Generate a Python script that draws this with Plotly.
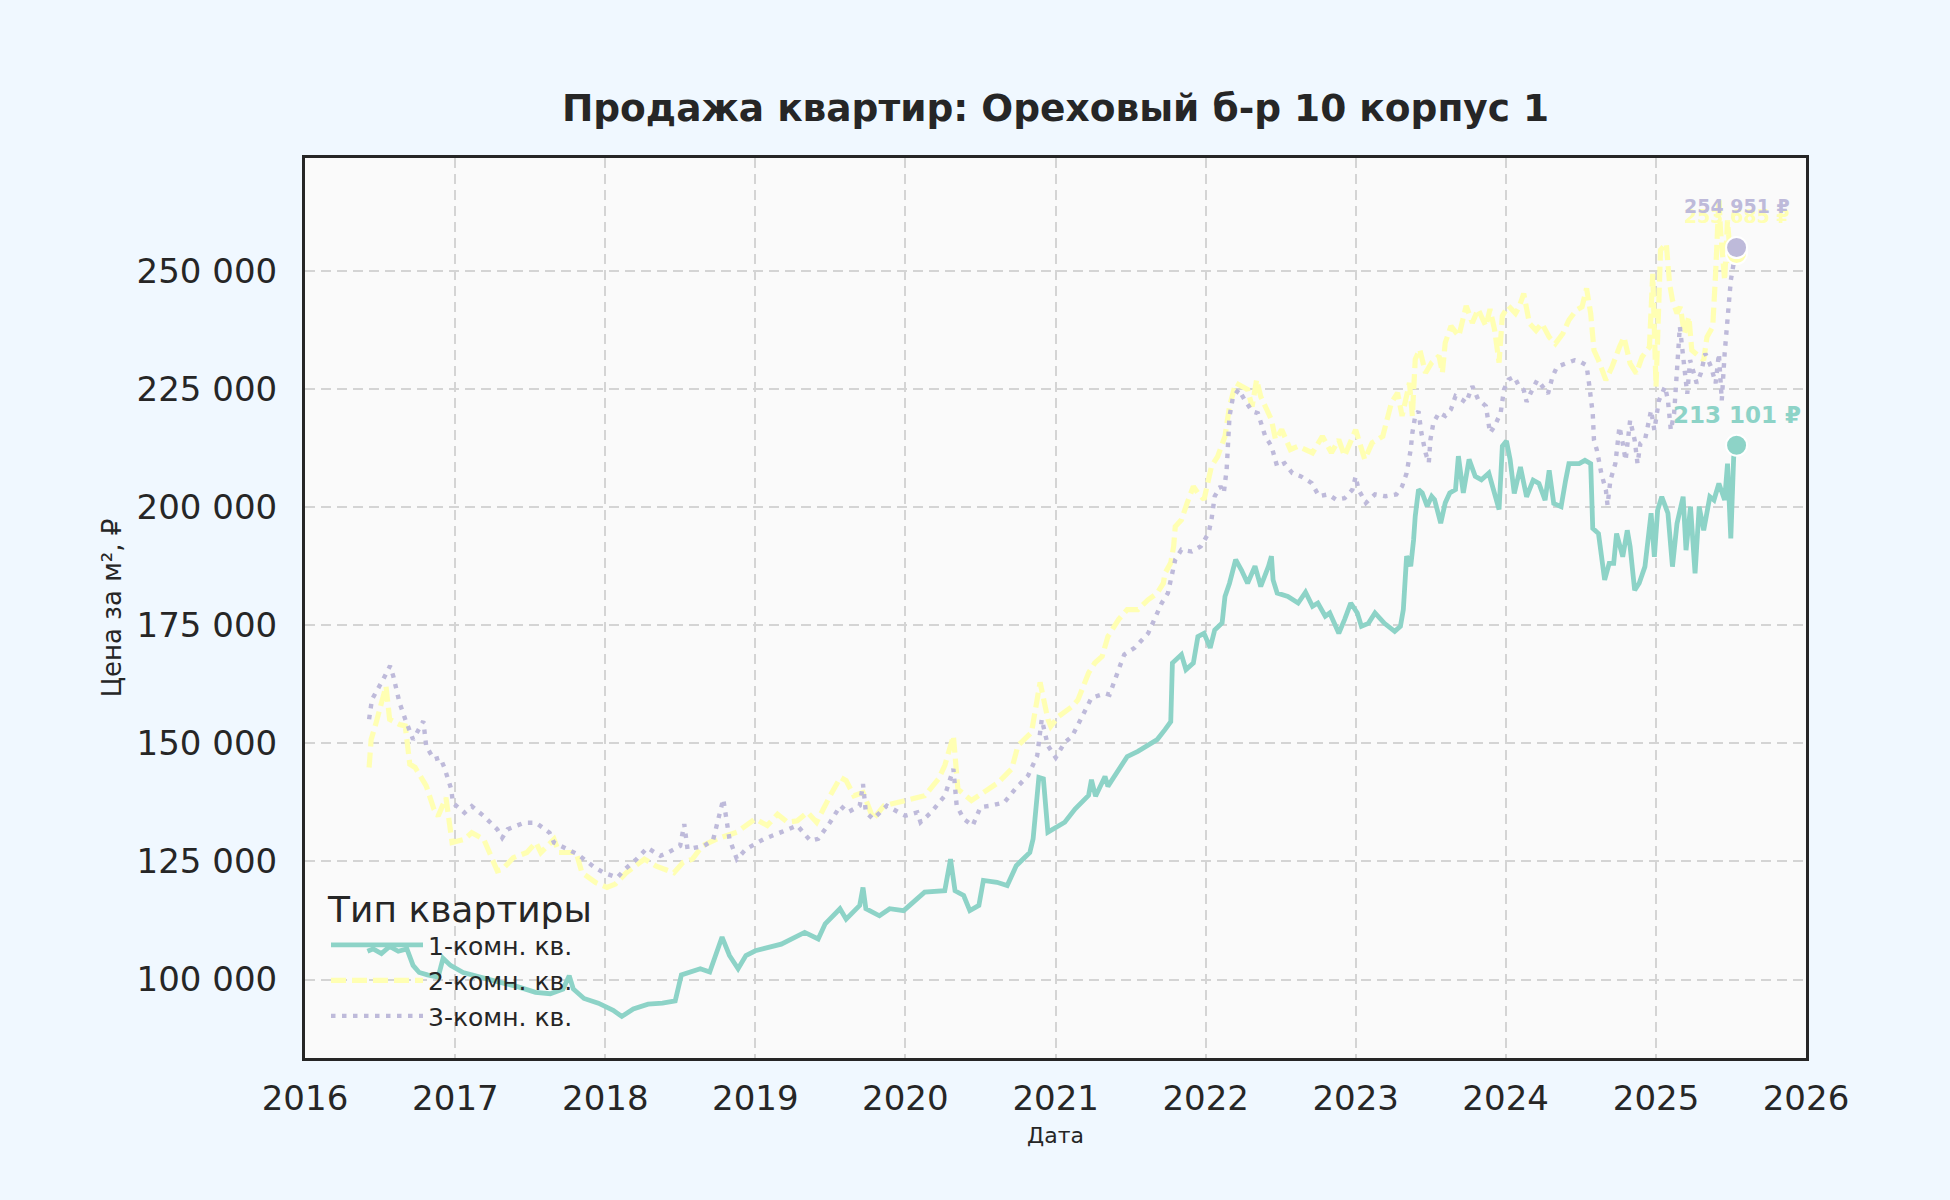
import plotly.graph_objects as go

# ---------------- data ----------------
room1_dates = [
    "2016-06-01", "2016-06-15", "2016-07-05", "2016-07-25", "2016-08-15", "2016-09-05", "2016-09-20",
    "2016-10-05", "2016-10-25", "2016-11-20", "2016-12-02", "2016-12-20", "2017-01-20", "2017-03-01",
    "2017-04-15", "2017-06-01", "2017-07-15", "2017-08-20", "2017-09-20", "2017-10-05", "2017-10-15",
    "2017-11-10", "2017-12-15", "2018-01-20", "2018-02-10", "2018-03-10", "2018-04-15", "2018-05-20",
    "2018-06-20", "2018-07-05", "2018-08-01", "2018-08-20", "2018-09-12", "2018-10-12", "2018-10-30",
    "2018-11-20", "2018-12-09", "2019-01-01", "2019-03-05", "2019-05-01", "2019-06-03", "2019-06-20",
    "2019-07-26", "2019-08-10", "2019-09-12", "2019-09-20", "2019-09-27", "2019-10-30", "2019-11-24",
    "2019-12-28", "2020-02-17", "2020-04-06", "2020-04-20", "2020-05-01", "2020-05-22", "2020-06-06",
    "2020-06-28", "2020-07-09", "2020-08-11", "2020-09-05", "2020-09-27", "2020-10-30", "2020-11-07",
    "2020-11-21", "2020-12-02", "2020-12-13", "2021-01-23", "2021-02-17", "2021-03-22", "2021-03-29",
    "2021-04-08", "2021-05-01", "2021-05-08", "2021-06-03", "2021-06-24", "2021-07-20", "2021-08-14",
    "2021-09-05", "2021-09-24", "2021-10-08", "2021-10-12", "2021-11-03", "2021-11-14", "2021-12-02",
    "2021-12-13", "2021-12-28", "2022-01-12", "2022-01-23", "2022-02-10", "2022-02-17", "2022-02-28",
    "2022-03-15", "2022-03-29", "2022-04-13", "2022-05-01", "2022-05-15", "2022-06-03", "2022-06-10",
    "2022-06-14", "2022-06-24", "2022-07-20", "2022-08-14", "2022-09-01", "2022-09-18", "2022-10-01",
    "2022-10-19", "2022-10-30", "2022-11-21", "2022-12-05", "2022-12-20", "2023-01-05", "2023-01-15",
    "2023-02-01", "2023-02-17", "2023-03-12", "2023-04-06", "2023-04-20", "2023-04-27", "2023-05-05",
    "2023-05-15", "2023-05-22", "2023-05-26", "2023-06-03", "2023-06-12", "2023-06-24", "2023-07-05",
    "2023-07-12", "2023-07-27", "2023-08-07", "2023-08-18", "2023-09-01", "2023-09-08", "2023-09-20",
    "2023-10-04", "2023-10-19", "2023-11-03", "2023-11-21", "2023-12-05", "2023-12-16", "2023-12-24",
    "2024-01-03", "2024-01-12", "2024-01-22", "2024-02-06", "2024-02-21", "2024-03-08", "2024-03-22",
    "2024-04-06", "2024-04-16", "2024-04-27", "2024-05-15", "2024-05-26", "2024-06-03", "2024-06-28",
    "2024-07-12", "2024-07-26", "2024-07-31", "2024-08-14", "2024-08-29", "2024-09-09", "2024-09-20",
    "2024-09-27", "2024-10-12", "2024-10-23", "2024-10-30", "2024-11-10", "2024-11-21", "2024-12-05",
    "2024-12-20", "2024-12-28", "2025-01-05", "2025-01-15", "2025-01-30", "2025-02-10", "2025-02-21",
    "2025-03-08", "2025-03-15", "2025-03-26", "2025-04-06", "2025-04-16", "2025-04-27", "2025-05-12",
    "2025-05-22", "2025-06-03", "2025-06-17", "2025-06-24", "2025-07-02", "2025-07-09", "2025-07-16",
]
room1_prices = [
    106000, 106500, 105500, 107000, 106000, 106500, 103000,
    101500, 101000, 100500, 104500, 103000, 101500, 100500,
    99500, 98500, 97300, 97000, 98000, 100800, 98000,
    96000, 95000, 93500, 92200, 93800, 94800, 95000,
    95500, 101000, 101800, 102300, 101600, 109000, 105100,
    102300, 105100, 106100, 107500, 110000, 108600, 111800,
    115000, 112800, 115700, 119500, 115000, 113500, 115000,
    114600, 118500, 118800, 125500, 118800, 117800, 114600,
    115700, 121000, 120600, 119900, 124100, 126900, 129800,
    142800, 142500, 131200, 133300, 136100, 139000, 142300,
    138800, 143000, 140900, 144400, 147200, 148300, 149700,
    150800, 152900, 154600, 167000, 168800, 165600, 167000,
    172600, 173300, 170200, 174000, 175500, 181100, 183900,
    188900, 186700, 183900, 187500, 183200, 187500, 189600,
    184600, 181800, 181100, 179700, 182000, 179000, 179700,
    176900, 177600, 173300, 176200, 179700, 177600, 174800,
    175400, 177600, 175400, 173700, 174800, 178300, 189600,
    187500, 193100, 198100, 203700, 203000, 200200, 202300,
    201600, 196600, 200900, 203000, 203700, 210800, 203000,
    210100, 206500, 205800, 207200, 203000, 199500, 212900,
    214000, 210000, 202900, 208500, 202200, 205700, 205000,
    201500, 207800, 200800, 200100, 205700, 209200, 209200,
    209900, 209200, 195500, 194400, 184600, 188100, 188100,
    194400, 189500, 195100, 191600, 182400, 183900, 187400,
    198700, 189500, 199400, 202200, 198700, 187400, 196500,
    202200, 190900, 200100, 186000, 200100, 195100, 202200,
    201500, 205000, 201500, 209200, 193400, 210600, 213101,
]

room2_dates = [
    "2016-06-05", "2016-06-10", "2016-06-20", "2016-07-16", "2016-07-25", "2016-08-18", "2016-09-01",
    "2016-09-12", "2016-09-25", "2016-10-22", "2016-11-10", "2016-11-20", "2016-12-09", "2016-12-24",
    "2017-01-23", "2017-02-10", "2017-03-11", "2017-03-25", "2017-04-13", "2017-04-25", "2017-05-22",
    "2017-06-24", "2017-07-16", "2017-07-28", "2017-08-29", "2017-09-10", "2017-10-22", "2017-11-05",
    "2017-12-09", "2018-01-05", "2018-01-25", "2018-02-21", "2018-04-06", "2018-05-05", "2018-06-17",
    "2018-07-09", "2018-08-01", "2018-08-25", "2018-09-30", "2018-11-17", "2019-01-01", "2019-01-30",
    "2019-02-24", "2019-03-20", "2019-04-13", "2019-05-08", "2019-05-30", "2019-07-02", "2019-07-27",
    "2019-08-10", "2019-08-29", "2019-09-20", "2019-10-15", "2019-11-10", "2019-12-16", "2020-01-15",
    "2020-02-17", "2020-03-22", "2020-04-06", "2020-04-27", "2020-05-08", "2020-06-10", "2020-07-13",
    "2020-08-14", "2020-09-16", "2020-10-01", "2020-11-03", "2020-11-24", "2020-12-13", "2020-12-20",
    "2021-01-08", "2021-02-10", "2021-02-24", "2021-03-22", "2021-04-06", "2021-04-24", "2021-05-08",
    "2021-06-03", "2021-06-24", "2021-07-20", "2021-08-14", "2021-09-05", "2021-09-20", "2021-09-24",
    "2021-10-08", "2021-10-15", "2021-10-19", "2021-11-03", "2021-11-17", "2021-12-02", "2021-12-13",
    "2021-12-28", "2022-01-15", "2022-01-30", "2022-02-17", "2022-02-28", "2022-03-15", "2022-03-29",
    "2022-04-13", "2022-04-24", "2022-05-05", "2022-05-15", "2022-05-26", "2022-06-10", "2022-06-20",
    "2022-07-05", "2022-07-26", "2022-08-14", "2022-09-18", "2022-10-12", "2022-11-03", "2022-11-21",
    "2022-12-05", "2023-01-01", "2023-01-23", "2023-02-10", "2023-03-08", "2023-03-18", "2023-03-29",
    "2023-04-13", "2023-04-24", "2023-05-12", "2023-05-19", "2023-05-26", "2023-06-06", "2023-06-20",
    "2023-07-05", "2023-07-23", "2023-07-31", "2023-08-07", "2023-08-21", "2023-09-09", "2023-09-27",
    "2023-10-12", "2023-10-26", "2023-11-14", "2023-11-24", "2023-12-05", "2023-12-16", "2023-12-24",
    "2024-01-08", "2024-01-25", "2024-02-03", "2024-02-14", "2024-02-28", "2024-03-15", "2024-03-29",
    "2024-04-16", "2024-05-01", "2024-05-19", "2024-06-03", "2024-06-21", "2024-07-05", "2024-07-16",
    "2024-07-26", "2024-08-03", "2024-08-14", "2024-09-01", "2024-09-16", "2024-10-04", "2024-10-15",
    "2024-10-30", "2024-11-14", "2024-11-28", "2024-12-16", "2024-12-24", "2025-01-01", "2025-01-12",
    "2025-01-26", "2025-02-03", "2025-02-10", "2025-02-21", "2025-03-01", "2025-03-11", "2025-03-22",
    "2025-03-29", "2025-04-16", "2025-04-27", "2025-05-05", "2025-05-19", "2025-05-26", "2025-06-03",
    "2025-06-07", "2025-06-17", "2025-06-24", "2025-07-02", "2025-07-09", "2025-07-16",
]
room2_prices = [
    144900, 150800, 153700, 162100, 155100, 154000, 153700,
    145600, 144900, 141000, 136000, 134600, 138500, 129000,
    129700, 131100, 129700, 126900, 123000, 123300, 125800,
    126900, 129000, 126900, 129700, 126900, 126900, 122600,
    120500, 119500, 120200, 122600, 125500, 124000, 122600,
    124800, 125500, 128300, 129800, 131200, 134000, 132600,
    135000, 133300, 133600, 135400, 133300, 138900, 142800,
    142100, 138900, 139600, 134000, 136800, 137500, 138200,
    138900, 142500, 145300, 151600, 140300, 137900, 140000,
    141700, 144600, 149500, 152300, 162900, 155100, 153600,
    155700, 157800, 159200, 164900, 167000, 168400, 172600,
    176200, 178300, 178300, 180400, 181800, 183900, 186000,
    188200, 191700, 195900, 197300, 200900, 204400, 203000,
    201600, 208600, 210700, 215000, 221300, 226300, 225600,
    224900, 221300, 227000, 223400, 221300, 218500, 214300,
    216400, 212200, 212900, 211500, 215000, 211500, 214300,
    210800, 216400, 210100, 213600, 215000, 218600, 222100,
    224200, 219300, 226300, 219300, 231300, 233400, 228400,
    230600, 232000, 228400, 234800, 238300, 236200, 242600,
    239000, 241900, 238300, 241900, 237600, 230600, 240500,
    242600, 241000, 242400, 245200, 238900, 237400, 238900,
    236000, 234600, 236700, 239600, 241700, 242400, 246300,
    241000, 233200, 231100, 226900, 229700, 233900, 236000,
    230400, 228300, 231800, 233900, 249400, 225500, 254400,
    255800, 247300, 243800, 241000, 242400, 236700, 240300,
    233200, 231800, 231100, 236000, 238200, 249400, 265300,
    258600, 248000, 260700, 251600, 253000, 253685,
]

room3_dates = [
    "2016-06-05", "2016-06-12", "2016-07-09", "2016-07-26", "2016-08-03", "2016-08-18", "2016-09-01",
    "2016-09-20", "2016-10-15", "2016-10-22", "2016-11-10", "2016-11-25", "2016-12-05", "2016-12-22",
    "2016-12-26", "2017-01-23", "2017-02-10", "2017-03-11", "2017-04-13", "2017-04-25", "2017-05-08",
    "2017-06-17", "2017-07-16", "2017-08-18", "2017-08-29", "2017-10-08", "2017-10-26", "2017-12-02",
    "2017-12-28", "2018-01-30", "2018-02-17", "2018-03-18", "2018-04-13", "2018-05-15", "2018-06-03",
    "2018-07-02", "2018-07-12", "2018-07-20", "2018-08-29", "2018-09-20", "2018-10-15", "2018-10-30",
    "2018-11-17", "2018-12-09", "2019-01-23", "2019-03-05", "2019-04-13", "2019-05-15", "2019-06-03",
    "2019-07-02", "2019-07-27", "2019-08-14", "2019-09-12", "2019-09-20", "2019-09-27", "2019-10-15",
    "2019-11-17", "2019-12-16", "2020-01-01", "2020-01-30", "2020-02-07", "2020-03-04", "2020-04-06",
    "2020-04-27", "2020-05-05", "2020-05-22", "2020-06-13", "2020-07-02", "2020-07-27", "2020-08-29",
    "2020-09-24", "2020-10-26", "2020-11-17", "2020-11-28", "2020-12-13", "2021-01-01", "2021-01-23",
    "2021-02-10", "2021-03-04", "2021-03-29", "2021-05-01", "2021-05-12", "2021-06-06", "2021-06-17",
    "2021-07-12", "2021-08-14", "2021-08-29", "2021-09-16", "2021-10-01", "2021-10-08", "2021-10-19",
    "2021-11-03", "2021-11-28", "2021-12-20", "2022-01-08", "2022-01-15", "2022-01-23", "2022-02-06",
    "2022-02-14", "2022-02-21", "2022-02-24", "2022-02-28", "2022-03-08", "2022-03-22", "2022-04-06",
    "2022-04-24", "2022-05-08", "2022-05-26", "2022-06-10", "2022-06-24", "2022-07-12", "2022-07-31",
    "2022-08-21", "2022-09-16", "2022-10-04", "2022-10-26", "2022-11-14", "2022-12-05", "2022-12-24",
    "2023-01-01", "2023-01-08", "2023-01-26", "2023-02-17", "2023-03-15", "2023-04-10", "2023-04-24",
    "2023-05-05", "2023-05-15", "2023-05-19", "2023-05-26", "2023-06-03", "2023-06-10", "2023-06-20",
    "2023-06-28", "2023-07-02", "2023-07-09", "2023-07-23", "2023-08-07", "2023-08-21", "2023-09-01",
    "2023-09-16", "2023-09-27", "2023-10-12", "2023-10-26", "2023-11-14", "2023-11-21", "2023-11-24",
    "2023-12-05", "2023-12-20", "2023-12-28", "2024-01-08", "2024-01-22", "2024-02-03", "2024-02-14",
    "2024-02-21", "2024-03-01", "2024-03-18", "2024-03-25", "2024-04-13", "2024-04-24", "2024-05-05",
    "2024-05-26", "2024-06-17", "2024-07-02", "2024-07-16", "2024-07-23", "2024-07-31", "2024-08-03",
    "2024-08-10", "2024-08-21", "2024-09-01", "2024-09-05", "2024-09-12", "2024-09-24", "2024-10-04",
    "2024-10-12", "2024-10-19", "2024-10-30", "2024-11-10", "2024-11-17", "2024-11-24", "2024-12-05",
    "2024-12-20", "2024-12-28", "2025-01-08", "2025-01-23", "2025-01-30", "2025-02-06", "2025-02-14",
    "2025-02-28", "2025-03-08", "2025-03-18", "2025-03-25", "2025-04-10", "2025-04-20", "2025-05-01",
    "2025-05-15", "2025-05-26", "2025-06-03", "2025-06-10", "2025-06-17", "2025-06-24", "2025-07-02",
    "2025-07-09", "2025-07-16",
]
room3_prices = [
    155100, 159300, 163500, 166400, 164200, 158600, 155100,
    150800, 154700, 149400, 146600, 147000, 144900, 140300,
    137400, 135300, 136700, 134600, 131800, 130000, 131800,
    133200, 133200, 131100, 129000, 127200, 126500, 124000,
    122600, 121600, 123300, 125500, 127900, 126200, 126900,
    128300, 132900, 127600, 128300, 129500, 138200, 129800,
    125500, 127600, 129800, 131200, 132600, 129400, 129800,
    133300, 136800, 135400, 136800, 141400, 135400, 134000,
    136800, 135400, 134700, 135400, 133300, 135400, 138900,
    144600, 136800, 134000, 132600, 136500, 136800, 137500,
    140300, 143200, 147400, 155100, 149500, 147000, 150200,
    151500, 155300, 159600, 160600, 160300, 166300, 168800,
    170200, 173300, 176200, 179700, 181800, 184600, 188900,
    191000, 190600, 191700, 194500, 197300, 202300, 204400,
    203000, 207900, 213600, 219200, 223100, 224900, 222700,
    220300, 219900, 215000, 212900, 208600, 209300, 207200,
    206500, 205100, 202300, 202700, 201600, 201900, 203700,
    206500, 203700, 200900, 202700, 202300, 202700, 204400,
    207200, 212200, 215700, 219300, 220300, 215700, 211500,
    209400, 214300, 217800, 220000, 219300, 220700, 223500,
    222800, 222100, 225600, 222800, 221400, 217800, 215700,
    217100, 220000, 224900, 227000, 227600, 225500, 224800,
    222300, 224000, 226900, 226200, 224000, 227600, 229700,
    230400, 231100, 230700, 230000, 225500, 219800, 214200,
    212100, 207100, 203600, 200400, 205700, 209200, 217000,
    213500, 209900, 218400, 214200, 209200, 213500, 214200,
    220500, 216300, 222600, 225500, 222600, 216300, 219800,
    238200, 231100, 224000, 231100, 226200, 228300, 232500,
    229700, 226200, 232500, 222600, 232500, 241000, 248000,
    251600, 254951,
]

series_names = ["1-комн. кв.", "2-комн. кв.", "3-комн. кв."]
series_colors = ["#8dd3c7", "#ffffb3", "#bebada"]

y_tick_values = [100000, 125000, 150000, 175000, 200000, 225000, 250000]
y_tick_labels = ["100 000", "125 000", "150 000", "175 000", "200 000", "225 000", "250 000"]
x_tick_values = ["2016-01-01", "2017-01-01", "2018-01-01", "2019-01-01", "2020-01-01", "2021-01-01",
                 "2022-01-01", "2023-01-01", "2024-01-01", "2025-01-01", "2026-01-01"]
x_tick_labels = ["2016", "2017", "2018", "2019", "2020", "2021", "2022", "2023", "2024", "2025", "2026"]

title_text = "Продажа квартир: Ореховый б-р 10 корпус 1"
x_title = "Дата"
y_title = "Цена за м², ₽"
legend_title = "Тип квартиры"

# ---------------- figure ----------------
FONT = "DejaVu Sans, Verdana, sans-serif"
DARK = "#262626"

# (dates, prices, dash, line width, label font size, label shift)
series = [
    (room1_dates, room1_prices, "solid", 4.8, 23, 30),
    (room2_dates, room2_prices, "15px,6px", 5.2, 19, 38),
    (room3_dates, room3_prices, "4.5px,6.5px", 4.4, 19, 42),
]

fig = go.Figure()
for (dates, prices, dash, lw, _, _), name, color in zip(series, series_names, series_colors):
    fig.add_trace(go.Scatter(
        x=dates, y=prices, mode="lines", name=name,
        line=dict(color=color, width=lw, dash=dash),
    ))

# end markers + value labels
for (dates, prices, dash, lw, fsize, shift), name, color in zip(series, series_names, series_colors):
    fig.add_trace(go.Scatter(
        x=[dates[-1]], y=[prices[-1]], mode="markers", showlegend=False,
        marker=dict(size=21, color=color, line=dict(color="white", width=2)),
        hoverinfo="skip",
    ))
for (dates, prices, dash, lw, fsize, shift), name, color in zip(series, series_names, series_colors):
    label = f"{prices[-1]:,}".replace(",", " ") + " ₽"
    fig.add_annotation(
        x=dates[-1], y=prices[-1], text=f"<b>{label}</b>", showarrow=False,
        yshift=shift, font=dict(family=FONT, size=fsize, color=color),
    )

fig.update_layout(
    width=1950, height=1200,
    margin=dict(l=305, r=144, t=158, b=142),
    paper_bgcolor="#f0f8ff", plot_bgcolor="#fafafa",
    font=dict(family=FONT, color=DARK),
    title=dict(text=f"<b>{title_text}</b>", x=0.5, xref="paper", xanchor="center",
               y=1 - 108 / 1200, yref="container", yanchor="middle",
               font=dict(family=FONT, size=37.5, color=DARK)),
    legend=dict(
        title=dict(text=legend_title, font=dict(family=FONT, size=36, color=DARK)),
        font=dict(family=FONT, size=25, color=DARK),
        x=0.014, y=0.203, xanchor="left", yanchor="top",
        bgcolor="rgba(0,0,0,0)", borderwidth=0,
        itemwidth=92, tracegroupgap=0,
    ),
    showlegend=True,
)

fig.update_xaxes(
    type="date", range=["2016-01-01", "2026-01-01"],
    tickvals=x_tick_values, ticktext=x_tick_labels,
    tickfont=dict(family=FONT, size=34, color=DARK),
    ticks="outside", ticklen=8, tickcolor="rgba(0,0,0,0)",
    showgrid=True, gridcolor="#d4d4d4", gridwidth=2, griddash="10px,6px",
    showline=True, linecolor=DARK, linewidth=3, mirror=True,
    zeroline=False,
    title=dict(text=x_title, font=dict(family=FONT, size=22, color=DARK), standoff=11),
)
fig.update_yaxes(
    range=[83400, 273900],
    tickvals=y_tick_values, ticktext=y_tick_labels,
    tickfont=dict(family=FONT, size=34, color=DARK),
    ticks="outside", ticklen=18, tickcolor="rgba(0,0,0,0)",
    showgrid=True, gridcolor="#d4d4d4", gridwidth=2, griddash="10px,6px",
    showline=True, linecolor=DARK, linewidth=3, mirror=True,
    zeroline=False,
    title=dict(text=y_title, font=dict(family=FONT, size=26, color=DARK), standoff=8),
)

fig.write_html(
    "out.html",
    config={"displayModeBar": False},
    post_script="document.body.style.margin='0';document.body.style.overflow='hidden';"
                "document.body.style.background='#f0f8ff';",
)
